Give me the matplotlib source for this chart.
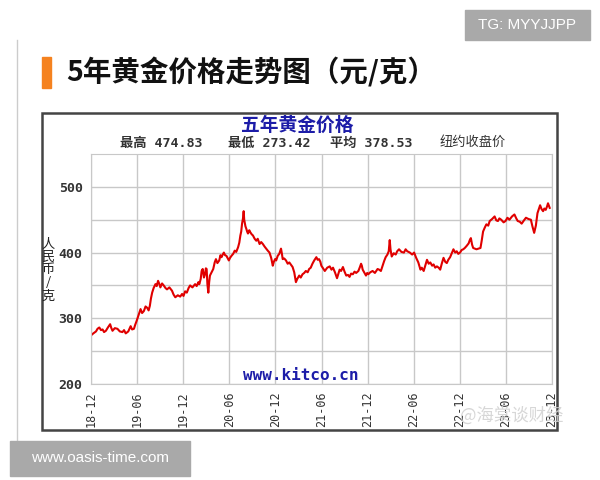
import matplotlib
matplotlib.use("Agg")
import matplotlib.pyplot as plt
from matplotlib.patches import Rectangle
import numpy as np

plt.rcParams['font.family'] = ['Noto Sans CJK SC', 'DejaVu Sans']

# months since 2018-12 and price (yuan/gram)
months = [0.00, 0.30, 0.65, 0.85, 1.08, 1.30, 1.51, 1.70, 1.94, 2.20,
          2.49, 2.65, 2.80, 3.10, 3.44, 3.75, 4.09, 4.30, 4.52, 4.85,
          5.16, 5.35, 5.59, 5.75, 5.94, 6.20, 6.45, 6.65, 6.88, 7.10,
          7.31, 7.50, 7.66, 7.80, 7.96, 8.15, 8.39, 8.55, 8.73, 8.90,
          9.03, 9.25, 9.46, 9.70, 9.89, 10.20, 10.54, 10.75, 10.97, 11.30,
          11.61, 11.85, 12.04, 12.25, 12.47, 12.70, 12.90, 13.20, 13.55, 13.75,
          13.98, 14.10, 14.28, 14.40, 14.54, 14.70, 14.84, 14.95, 15.05, 15.15,
          15.27, 15.38, 15.48, 15.70, 15.91, 16.10, 16.26, 16.45, 16.69, 16.85,
          16.99, 17.15, 17.29, 17.45, 17.63, 17.80, 17.94, 18.10, 18.28, 18.50,
          18.71, 18.90, 19.14, 19.30, 19.44, 19.55, 19.66, 19.78, 19.87, 19.94,
          20.00, 20.10, 20.22, 20.32, 20.43, 20.60, 20.73, 20.90, 21.08, 21.30,
          21.51, 21.70, 21.94, 22.15, 22.37, 22.60, 22.80, 23.00, 23.23, 23.45,
          23.66, 23.80, 23.96, 24.10, 24.30, 24.50, 24.73, 24.85, 24.95, 25.15,
          25.38, 25.60, 25.81, 26.00, 26.24, 26.45, 26.67, 26.85, 27.10, 27.30,
          27.53, 27.75, 27.96, 28.20, 28.39, 28.60, 28.82, 29.05, 29.33, 29.50,
          29.68, 29.85, 29.98, 30.20, 30.43, 30.75, 31.07, 31.30, 31.50, 31.75,
          32.02, 32.20, 32.36, 32.55, 32.79, 33.00, 33.22, 33.45, 33.65, 33.85,
          34.08, 34.30, 34.51, 34.80, 35.00, 35.15, 35.25, 35.36, 35.55, 35.79,
          35.95, 36.09, 36.35, 36.65, 36.95, 37.30, 37.50, 37.73, 37.95, 38.15,
          38.35, 38.58, 38.75, 38.88, 38.98, 39.14, 39.40, 39.66, 39.85, 40.09,
          40.40, 40.73, 40.95, 41.16, 41.50, 41.80, 42.05, 42.32, 42.60, 42.88,
          43.05, 43.30, 43.50, 43.73, 43.95, 44.16, 44.40, 44.59, 44.80, 45.02,
          45.25, 45.45, 45.65, 45.88, 46.10, 46.31, 46.50, 46.74, 46.95, 47.17,
          47.40, 47.60, 47.80, 48.03, 48.25, 48.45, 48.65, 48.88, 49.15, 49.30,
          49.44, 49.60, 49.74, 49.95, 50.17, 50.45, 50.69, 50.85, 51.03, 51.25,
          51.46, 51.70, 51.89, 52.20, 52.53, 52.75, 52.96, 53.15, 53.39, 53.70,
          53.95, 54.20, 54.46, 54.80, 55.11, 55.35, 55.54, 55.80, 56.05, 56.35,
          56.61, 56.95, 57.25, 57.45, 57.68, 57.90, 58.11, 58.30, 58.45, 58.65,
          58.84, 59.00, 59.18, 59.35, 59.48, 59.60, 59.70]
prices = [274, 277, 280, 284, 286, 282, 283, 279, 281, 286,
          291, 285, 281, 285, 284, 280, 279, 282, 277, 280,
          288, 283, 284, 290, 296, 305, 314, 308, 311, 318,
          316, 312, 319, 330, 339, 346, 352, 349, 357, 352,
          347, 353, 350, 346, 344, 347, 342, 336, 332, 335,
          333, 337, 334, 341, 339, 346, 350, 347, 352, 349,
          355, 352, 360, 372, 375, 362, 367, 376, 375, 352,
          339, 355, 365, 370, 375, 385, 390, 384, 388, 396,
          393, 397, 400, 396, 395, 391, 388, 392, 395, 398,
          403, 401, 408, 415, 426, 432, 444, 452, 463, 450,
          446, 440, 436, 432, 429, 434, 431, 428, 426, 421,
          418, 421, 413, 416, 413, 409, 406, 403, 400, 392,
          380, 386, 390, 388, 395, 398, 406, 398, 390, 391,
          388, 383, 385, 382, 378, 370, 355, 360, 365, 362,
          367, 369, 372, 370, 375, 377, 383, 388, 393, 389,
          390, 386, 380, 376, 372, 377, 379, 374, 377, 370,
          361, 368, 374, 372, 378, 371, 365, 366, 363, 368,
          367, 371, 369, 372, 378, 383, 380, 374, 370, 365,
          369, 367, 370, 372, 369, 375, 374, 372, 380, 387,
          393, 397, 402, 419, 405, 394, 399, 397, 402, 405,
          401, 400, 405, 402, 400, 397, 400, 392, 385, 374,
          377, 372, 380, 389, 383, 385, 380, 382, 377, 379,
          377, 374, 383, 392, 386, 384, 389, 393, 399, 405,
          400, 402, 398, 400, 404, 405, 407, 410, 414, 419,
          422, 412, 407, 406, 405, 406, 407, 418, 432, 438,
          443, 441, 448, 451, 455, 449, 448, 452, 450, 446,
          448, 453, 450, 455, 458, 452, 448, 447, 444, 449,
          453, 451, 450, 440, 430, 441, 460, 467, 472, 466,
          463, 467, 465, 470, 475, 471, 468]

tick_months = [0, 6, 12, 18, 24, 30, 36, 42, 48, 54, 60]
tick_labels = ['18-12', '19-06', '19-12', '20-06', '20-12', '21-06',
               '21-12', '22-06', '22-12', '23-06', '23-12']
y_ticks = [200, 300, 400, 500]
stat_labels = ['最高 474.83', '最低 273.42', '平均 378.53']

fig = plt.figure(figsize=(6, 4.8), dpi=100)

# page decorations
fig.add_artist(plt.Line2D([17/600, 17/600], [1-40/480, 1-441/480], color='#cccccc', lw=1))
fig.add_artist(Rectangle((465/600, 1-40/480), 125/600, 30/480, color='#a9a9a9'))
fig.text(527/600, 1-25/480, 'TG: MYYJJPP', color='white', fontsize=11,
         ha='center', va='center', family='Liberation Sans')
fig.add_artist(Rectangle((42/600, 1-88/480), 9/600, 31/480, color='#f5821f'))
fig.text(66/600, 1-72/480, '5年黄金价格走势图（元/克）', fontsize=20.5, fontweight='bold',
         ha='left', va='center', color='#111111')
fig.add_artist(Rectangle((10/600, 1-476/480), 180/600, 35/480, color='#a9a9a9', zorder=3))
fig.text(100/600, 1-458/480, 'www.oasis-time.com', color='white', fontsize=11,
         ha='center', va='center', family='Liberation Sans', zorder=4)

# chart box (behind the axes)
fig.add_artist(Rectangle((42/600, 1-430/480), 515/600, 317/480, facecolor='white',
                         edgecolor='#444444', lw=1.8, zorder=-1))
fig.text(297/600, 1-125/480, '五年黄金价格', color='#1c1ca8', fontsize=13.5,
         fontweight='bold', ha='center', va='center')
for x0, s in zip([120, 228, 330], stat_labels):
    fig.text(x0/600, 1-143/480, s, fontsize=9.5, fontweight='bold', color='#333333',
             ha='left', va='center', family=['DejaVu Sans Mono', 'Noto Sans CJK SC'])
fig.text(440/600, 1-142/480, '纽约收盘价', fontsize=9.5, color='#333333',
         ha='left', va='center')
fig.text(48/600, 1-270/480, '人\n民\n币\n/\n克', fontsize=9.5, color='#222222',
         ha='center', va='center', linespacing=1.0)

ax = fig.add_axes([91/600, 1-384/480, 461/600, 230/480])
ax.patch.set_alpha(0)
ax.plot(months, prices, color='#e00000', lw=1.5)
ax.set_xlim(0, 60)
ax.set_ylim(200, 550)
ax.set_xticks(tick_months)
ax.set_xticklabels(tick_labels, rotation=90, family='DejaVu Sans Mono', fontsize=8.5,
                   color='#333333')
ax.set_yticks(y_ticks)
ax.set_yticklabels([str(v) for v in y_ticks], family='DejaVu Sans Mono', fontsize=9.5,
                   fontweight='bold', color='#333333')
ax.set_yticks(np.arange(250, 550, 100), minor=True)
ax.tick_params(length=0, which='both')
ax.tick_params(axis='y', pad=6)
ax.tick_params(axis='x', pad=5)
ax.grid(True, which='both', color='#c8c8c8', lw=1)
ax.set_axisbelow(True)
for sp in ax.spines.values():
    sp.set_color('#c8c8c8')
ax.text(0.455, 0.035, 'www.kitco.cn', transform=ax.transAxes, color='#1c1ca8',
        fontsize=11.5, fontweight='bold', family='DejaVu Sans Mono', ha='center', va='center')

fig.text(512/600, 1-416/480, '@海棠谈财经', fontsize=12.5, color='#d0d0d0',
         ha='center', va='center', alpha=0.85)

fig.savefig('out.png', dpi=100)
